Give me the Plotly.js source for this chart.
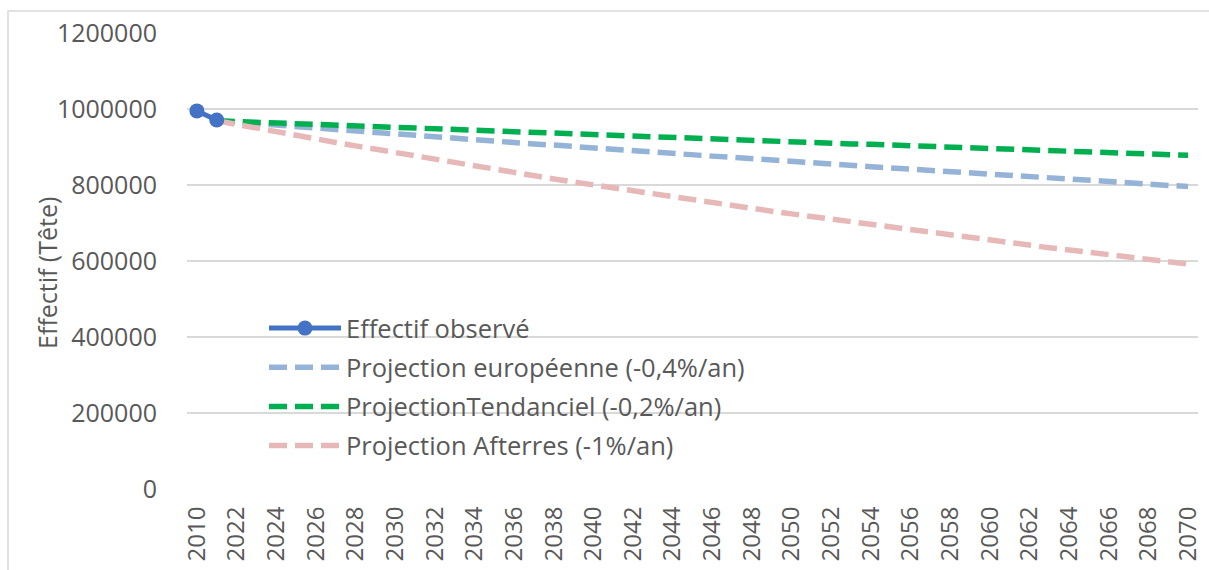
<!DOCTYPE html>
<html>
<head>
<meta charset="utf-8">
<script src="https://cdn.plot.ly/plotly-3.0.1.min.js"></script>
<style>html,body{margin:0;padding:0;background:#fff;}#chart{width:1209px;height:570px;}</style>
</head>
<body>
<div id="chart"></div>
<script>
// Categories (years) on the x axis
const years = ['2010','2021','2022','2023','2024','2025','2026','2027','2028','2029','2030',
  '2031','2032','2033','2034','2035','2036','2037','2038','2039','2040',
  '2041','2042','2043','2044','2045','2046','2047','2048','2049','2050',
  '2051','2052','2053','2054','2055','2056','2057','2058','2059','2060',
  '2061','2062','2063','2064','2065','2066','2067','2068','2069','2070'];

// Observed headcount
const obsYears = ['2010','2021'];
const obsValues = [995000, 971000];

// Projection years (2021 - 2070)
const projYears = years.slice(1);

// Projection européenne (-0,4%/an)
const projEuro = [969000,965000,961000,957000,953000,950000,946000,942000,938000,934000,931000,
  927000,923000,919000,916000,912000,908000,905000,901000,897000,894000,
  890000,887000,883000,880000,876000,873000,869000,866000,862000,859000,
  855000,852000,848000,845000,842000,838000,835000,832000,828000,825000,
  822000,818000,815000,812000,809000,806000,802000,799000,796000];

// ProjectionTendanciel (-0,2%/an)
const projTend = [969000,967000,965000,963000,961000,959000,957000,955000,953000,951000,949000,
  947000,945000,943000,941000,940000,938000,936000,934000,932000,930000,
  928000,927000,925000,923000,921000,919000,917000,916000,914000,912000,
  910000,908000,907000,905000,903000,901000,899000,898000,896000,894000,
  892000,891000,889000,887000,885000,883000,882000,880000,878000];

// Projection Afterres (-1%/an)
const projAfter = [969000,959000,950000,940000,931000,921000,912000,903000,894000,885000,876000,
  867000,859000,850000,841000,833000,825000,816000,808000,800000,792000,
  784000,777000,769000,761000,754000,746000,738000,731000,724000,717000,
  709000,702000,695000,688000,681000,675000,668000,661000,655000,648000,
  642000,635000,629000,623000,616000,610000,604000,598000,592000];

const seriesNames = ['Effectif observé','Projection européenne (-0,4%/an)','ProjectionTendanciel (-0,2%/an)','Projection Afterres (-1%/an)'];
const yTitle = 'Effectif (Tête)';
const colors = ['#4472C4','#95B3D7','#00B050','#E6B9B8'];

const FONT = '"Open Sans", "Liberation Sans", Arial, sans-serif';
const TXT = '#595959';
const dashStyle = '18px,8px';

const traces = [
  {x: projYears, y: projEuro, name: seriesNames[1], legendgroup:'g1', legendrank:2, type:'scatter', mode:'lines',
   line:{color:colors[1], width:5.5, dash:dashStyle}},
  {x: projYears, y: projTend, name: seriesNames[2], legendgroup:'g2', legendrank:3, type:'scatter', mode:'lines',
   line:{color:colors[2], width:5.5, dash:dashStyle}},
  {x: projYears, y: projAfter, name: seriesNames[3], legendgroup:'g3', legendrank:4, type:'scatter', mode:'lines',
   line:{color:colors[3], width:5.5, dash:dashStyle}},
  {x: obsYears, y: obsValues, name: seriesNames[0], legendgroup:'g0', legendrank:1, type:'scatter', mode:'lines+markers',
   line:{color:colors[0], width:5}, marker:{size:15, color:colors[0]}}
];

const L = 187, R = 11, T = 33, B = 81, W = 1209, H = 570;
const pw = W - L - R, ph = H - T - B;
const px = v => (v - L) / pw;
const py = v => (H - B - v) / ph;

const layout = {
  width: W, height: H,
  margin: {l: L, r: R, t: T, b: B},
  paper_bgcolor: '#fff', plot_bgcolor: '#fff',
  font: {family: FONT, color: TXT, size: 25},
  showlegend: true,
  legend: {x: px(264), y: py(305), xanchor:'left', yanchor:'top', bgcolor:'rgba(0,0,0,0)',
    traceorder:'grouped',
    font:{family: FONT, size: 25.5, color: TXT}, tracegroupgap: 3, itemwidth: 72},
  xaxis: {type:'category', categoryorder:'array', categoryarray: years,
    range:[-0.5, 50.5], tickmode:'linear', tick0:0, dtick:2, tickangle:-90,
    ticks:'outside', ticklen:7, tickcolor:'rgba(0,0,0,0)',
    showgrid:false, showline:false, zeroline:false,
    tickfont:{family: FONT, size: 24, color: TXT}},
  yaxis: {range:[0, 1200000], dtick:200000, tick0:0, tickformat:'d',
    showgrid:true, gridcolor:'#D9D9D9', gridwidth:1.5, zeroline:false, showline:false,
    ticks:'outside', ticklen:24, tickcolor:'rgba(0,0,0,0)',
    tickfont:{family: FONT, size: 25, color: TXT}},
  annotations: [
    {text: yTitle, xref:'paper', yref:'paper', x: px(47), y: py(273), xanchor:'center', yanchor:'middle',
     textangle:-90, showarrow:false, font:{family: FONT, size: 25, color: TXT}}
  ],
  shapes: [
    {type:'path', xref:'paper', yref:'paper',
     path: 'M ' + px(8) + ' ' + py(575) + ' L ' + px(8) + ' ' + py(11) + ' L ' + px(1215) + ' ' + py(11),
     line:{color:'#D9D9D9', width:1.5}}
  ]
};

Plotly.newPlot('chart', traces, layout, {displayModeBar:false, staticPlot:true});
</script>
</body>
</html>
